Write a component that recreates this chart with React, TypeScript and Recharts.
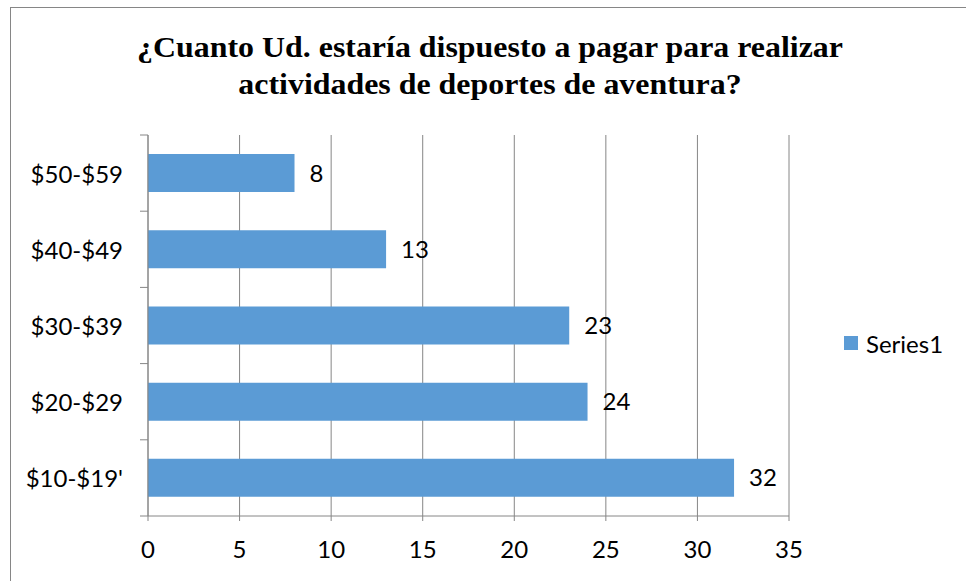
import React from "react";
import { BarChart, Bar, XAxis, YAxis, CartesianGrid, LabelList } from "recharts";

const categories = ["$50-$59", "$40-$49", "$30-$39", "$20-$29", "$10-$19'"];
const series1 = [8, 13, 23, 24, 32];
const xTicks = [0, 5, 10, 15, 20, 25, 30, 35];
const seriesName = "Series1";
const titleLines = [
  "¿Cuanto Ud. estaría dispuesto a pagar para realizar",
  "actividades de deportes de aventura?",
];

const data = categories.map((c, i) => ({ category: c, value: series1[i] }));

const FONT = "'Lato', 'Open Sans', sans-serif";
const FS = 24;
const GRAY = "#868686";
const BLUE = "#5B9BD5";

const YTick = (props: any) => {
  const { x, y, payload, index, visibleTicksCount } = props;
  const off = payload && payload.offset ? payload.offset : 38.1;
  const lx1 = x + 17;
  const lx2 = x + 25;
  const last = index === (visibleTicksCount ?? categories.length) - 1;
  return (
    <g>
      <line x1={lx1} x2={lx2} y1={y - off} y2={y - off} stroke={GRAY} />
      {last && <line x1={lx1} x2={lx2} y1={y + off} y2={y + off} stroke={GRAY} />}
      <text x={x} y={y} textAnchor="end" dominantBaseline="central" fontFamily={FONT} fontSize={FS} fill="#000">
        {payload.value}
      </text>
    </g>
  );
};

export default function App() {
  return (
    <div style={{ position: "absolute", left: 0, top: 0, width: 966, height: 581, overflow: "hidden", background: "#fff" }}>
      <div style={{ position: "absolute", left: 10, top: 7, width: 1000, height: 700, borderTop: `1px solid ${GRAY}`, borderLeft: `1px solid ${GRAY}` }} />
      <div
        style={{
          position: "absolute",
          left: 0,
          width: 980,
          top: 29,
          textAlign: "center",
          fontFamily: "'Liberation Serif', 'Times New Roman', serif",
          fontWeight: "bold",
          fontSize: 29,
          lineHeight: "37px",
          color: "#000",
          transform: "scaleX(1.1)",
          transformOrigin: "490px 0",
        }}
      >
        {titleLines.map((l, i) => (
          <div key={i}>{l}</div>
        ))}
      </div>
      <div style={{ position: "absolute", left: 0, top: 0 }}>
        <BarChart
          width={966}
          height={581}
          data={data}
          layout="vertical"
          margin={{ top: 135, right: 177, bottom: 0, left: 0 }}
          barCategoryGap="25%"
        >
          <CartesianGrid horizontal={false} stroke={GRAY} />
          <XAxis
            type="number"
            domain={[0, 35]}
            ticks={xTicks}
            height={65}
            tickSize={5}
            tickMargin={20}
            stroke={GRAY}
            tick={{ fill: "#000", fontFamily: FONT, fontSize: FS }}
            interval={0}
          />
          <YAxis
            type="category"
            dataKey="category"
            width={148}
            tickSize={8}
            tickMargin={17}
            tickLine={false}
            stroke={GRAY}
            tick={<YTick />}
            interval={0}
          />
          <Bar dataKey="value" name={seriesName} fill={BLUE} isAnimationActive={false}>
            <LabelList dataKey="value" position="right" offset={15} fill="#000" fontFamily={FONT} fontSize={FS} />
          </Bar>
        </BarChart>
      </div>
      <div
        style={{
          position: "absolute",
          left: 844,
          top: 329,
          height: 28,
          display: "flex",
          alignItems: "center",
          fontFamily: FONT,
          fontSize: FS,
          color: "#000",
        }}
      >
        <span style={{ display: "inline-block", width: 14, height: 14, background: BLUE, marginRight: 8 }} />
        <span>{seriesName}</span>
      </div>
    </div>
  );
}
